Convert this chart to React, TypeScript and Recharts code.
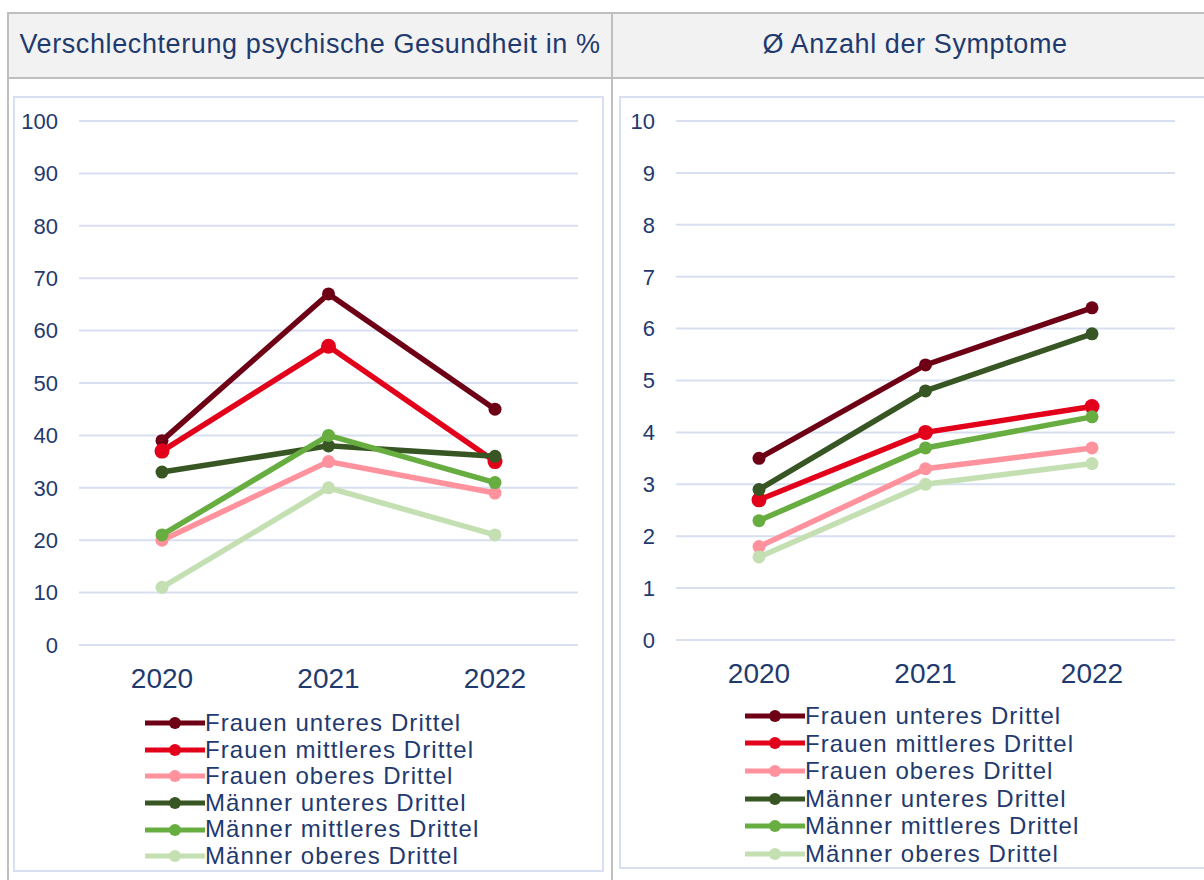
import { LineChart, Line, XAxis, YAxis, CartesianGrid, Legend } from 'recharts'

// categories and series
const years = ['2020', '2021', '2022']
const seriesNames = [
  'Frauen unteres Drittel',
  'Frauen mittleres Drittel',
  'Frauen oberes Drittel',
  'Männer unteres Drittel',
  'Männer mittleres Drittel',
  'Männer oberes Drittel',
]
const seriesColors = ['#6e0016', '#e2001a', '#ff929d', '#375623', '#67ad40', '#c4e0b3']

// Verschlechterung psychische Gesundheit in %
const pctFrauenUnten = [39, 67, 45]
const pctFrauenMitte = [37, 57, 35]
const pctFrauenOben = [20, 35, 29]
const pctMaennerUnten = [33, 38, 36]
const pctMaennerMitte = [21, 40, 31]
const pctMaennerOben = [11, 30, 21]
const pctTicks = [0, 10, 20, 30, 40, 50, 60, 70, 80, 90, 100]

// Ø Anzahl der Symptome
const symFrauenUnten = [3.5, 5.3, 6.4]
const symFrauenMitte = [2.7, 4.0, 4.5]
const symFrauenOben = [1.8, 3.3, 3.7]
const symMaennerUnten = [2.9, 4.8, 5.9]
const symMaennerMitte = [2.3, 3.7, 4.3]
const symMaennerOben = [1.6, 3.0, 3.4]
const symTicks = [0, 1, 2, 3, 4, 5, 6, 7, 8, 9, 10]

const keys = ['s0', 's1', 's2', 's3', 's4', 's5']

function buildRows(series: number[][]) {
  return years.map((year, i) => {
    const row: Record<string, string | number> = { year }
    series.forEach((values, s) => {
      row[keys[s]] = values[i]
    })
    return row
  })
}

const pctData = buildRows([pctFrauenUnten, pctFrauenMitte, pctFrauenOben, pctMaennerUnten, pctMaennerMitte, pctMaennerOben])
const symData = buildRows([symFrauenUnten, symFrauenMitte, symFrauenOben, symMaennerUnten, symMaennerMitte, symMaennerOben])

const FONT = '"Liberation Sans", Arial, sans-serif'
const NAVY = '#1f3a6e'
const GRID = '#d7dff0'

function LegendRows({ rowHeight }: { rowHeight: number }) {
  return (
    <div style={{ fontFamily: FONT, fontSize: 24, letterSpacing: 1.1, color: NAVY }}>
      {seriesNames.map((name, i) => (
        <div key={name} style={{ display: 'flex', alignItems: 'center', height: rowHeight, whiteSpace: 'nowrap' }}>
          <svg width={60} height={14} style={{ display: 'block' }}>
            <line x1={0} y1={7} x2={60} y2={7} stroke={seriesColors[i]} strokeWidth={5} />
            <circle cx={30} cy={7} r={6} fill={seriesColors[i]} />
          </svg>
          <span style={{ lineHeight: `${rowHeight}px` }}>{name}</span>
        </div>
      ))}
    </div>
  )
}

type PanelProps = {
  data: Record<string, string | number>[]
  ticks: number[]
  max: number
  width: number
  yWidth: number
  right: number
  plotHeight: number
  legendTop: number
  legendLeft: number
  rowHeight: number
}

function Panel({ data, ticks, max, width, yWidth, right, plotHeight, legendTop, legendLeft, rowHeight }: PanelProps) {
  const chartHeight = 776
  const xHeight = 71
  return (
    <LineChart
      width={width}
      height={chartHeight}
      data={data}
      margin={{ top: 25, right, left: 0, bottom: chartHeight - 25 - plotHeight - xHeight }}
    >
      <CartesianGrid vertical={false} stroke={GRID} strokeWidth={2} />
      <XAxis
        dataKey="year"
        axisLine={false}
        tickLine={false}
        tickSize={0}
        tickMargin={23}
        height={xHeight}
        padding={{ left: 83, right: 83 }}
        tick={{ fill: NAVY, fontSize: 28, fontFamily: FONT }}
      />
      <YAxis
        domain={[0, max]}
        ticks={ticks}
        interval={0}
        width={yWidth}
        axisLine={false}
        tickLine={false}
        tickSize={0}
        tickMargin={21}
        tick={{ fill: NAVY, fontSize: 22, fontFamily: FONT }}
      />
      <Legend
        layout="vertical"
        align="center"
        verticalAlign="middle"
        wrapperStyle={{ top: legendTop, left: legendLeft, width: 'auto' }}
        content={() => <LegendRows rowHeight={rowHeight} />}
      />
      {keys.map((k, i) => (
        <Line
          key={k}
          dataKey={k}
          name={seriesNames[i]}
          stroke={seriesColors[i]}
          strokeWidth={5.5}
          dot={{ r: i === 1 ? 7.5 : 6.5, fill: seriesColors[i], stroke: 'none' }}
          activeDot={false}
          isAnimationActive={false}
        />
      ))}
    </LineChart>
  )
}

export default function App() {
  return (
    <div style={{ position: 'absolute', left: 0, top: 0, width: 1204, height: 880, overflow: 'hidden', background: '#fff', fontFamily: FONT }}>
      {/* table header */}
      <div style={{ position: 'absolute', left: 7, top: 12, width: 1220, height: 63, background: '#f2f2f2', borderTop: '2px solid #bfbfbf', borderBottom: '2px solid #bfbfbf' }} />
      <div style={{ position: 'absolute', left: 7, top: 12, width: 2, height: 880, background: '#bfbfbf' }} />
      <div style={{ position: 'absolute', left: 611, top: 12, width: 2, height: 880, background: '#bfbfbf' }} />
      <div style={{ position: 'absolute', left: 9, top: 14, width: 602, height: 61, display: 'flex', alignItems: 'center', justifyContent: 'center', fontSize: 27, letterSpacing: 0.6, color: NAVY, whiteSpace: 'nowrap' }}>
        Verschlechterung psychische Gesundheit in %
      </div>
      <div style={{ position: 'absolute', left: 613, top: 14, width: 604, height: 61, display: 'flex', alignItems: 'center', justifyContent: 'center', fontSize: 27, letterSpacing: 0.6, color: NAVY, whiteSpace: 'nowrap' }}>
        Ø Anzahl der Symptome
      </div>

      {/* chart panels */}
      <div style={{ position: 'absolute', left: 13, top: 96, width: 587, height: 772, border: `2px solid ${GRID}` }} />
      <div style={{ position: 'absolute', left: 619, top: 96, width: 600, height: 769, border: `2px solid ${GRID}` }} />

      <div style={{ position: 'absolute', left: 13, top: 96 }}>
        <Panel data={pctData} ticks={pctTicks} max={100} width={591} yWidth={66} right={26} plotHeight={524} legendTop={614} legendLeft={132} rowHeight={26.6} />
      </div>
      <div style={{ position: 'absolute', left: 619, top: 96 }}>
        <Panel data={symData} ticks={symTicks} max={10} width={585} yWidth={57} right={29} plotHeight={519} legendTop={606} legendLeft={126} rowHeight={27.6} />
      </div>
    </div>
  )
}
